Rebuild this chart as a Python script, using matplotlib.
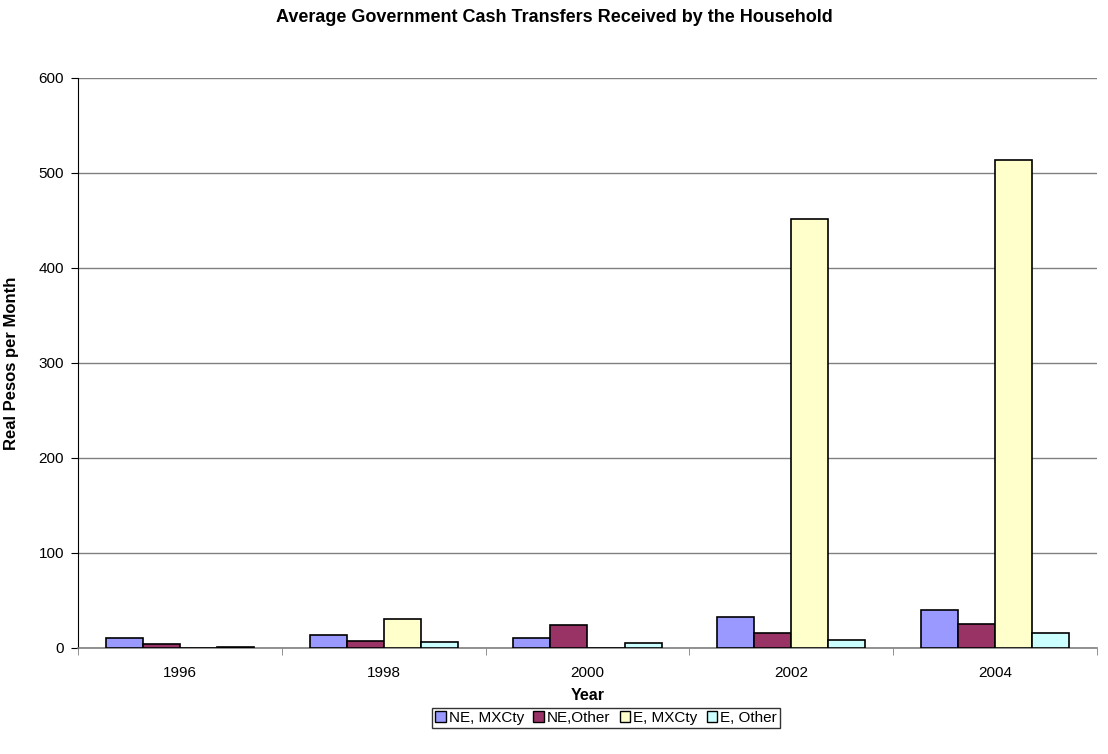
import numpy as np
import matplotlib
matplotlib.use('Agg')
import matplotlib.pyplot as plt
from matplotlib.patches import Patch

plt.rcParams['font.family'] = ['Liberation Sans', 'DejaVu Sans']

years = ['1996', '1998', '2000', '2002', '2004']
series_names = ['NE, MXCty', 'NE,Other', 'E, MXCty', 'E, Other']
ne_mxcty = [10, 13.7, 10.9, 33, 40]
ne_other = [4, 7.7, 24.2, 15.4, 25.3]
e_mxcty = [0, 30.5, 0, 452, 514]
e_other = [1, 6.7, 5, 8.8, 15.4]
colors = ['#9999FF', '#993366', '#FFFFCC', '#CCFFFF']

fig = plt.figure(figsize=(11.08, 7.54), dpi=100)
ax = fig.add_axes([0.0704, 0.1406, 0.9196, 0.756])

x = np.arange(len(years))
w = 0.182
all_series = [ne_mxcty, ne_other, e_mxcty, e_other]
for i, vals in enumerate(all_series):
    ax.bar(x + (i - 1.5) * w, vals, w, color=colors[i], edgecolor='black',
           linewidth=1.2, zorder=3)

ax.set_xlim(-0.5, 4.5)
ax.set_ylim(0, 600)
ax.set_yticks(range(0, 601, 100))
ax.yaxis.grid(True, color='#808080', linewidth=1, zorder=0)

# category labels centred, tick marks between groups
ax.set_xticks(x)
ax.set_xticklabels(years, fontsize=11)
ax.tick_params(axis='x', length=0, pad=13)
ax.set_xticks(np.arange(-0.5, 5, 1), minor=True)
ax.tick_params(axis='x', which='minor', length=5, direction='out', color='#808080')
ax.tick_params(axis='y', labelsize=11, length=5, direction='out', pad=5)

for s in ['top', 'right']:
    ax.spines[s].set_visible(False)
ax.spines['left'].set_color('black')
ax.spines['bottom'].set_color('#808080')
ax.spines['bottom'].set_linewidth(1.2)

ax.set_xlabel('Year', fontsize=11.5, fontweight='bold', labelpad=6)
ax.set_ylabel('Real Pesos per Month', fontsize=12, fontweight='bold', labelpad=14)
fig.suptitle('Average Government Cash Transfers Received by the Household',
             fontsize=13, fontweight='bold', y=0.988)

handles = [Patch(facecolor=c, edgecolor='black', linewidth=1) for c in colors]
leg = fig.legend(handles, series_names, loc='center', bbox_to_anchor=(0.547, 0.048),
                 ncol=4, fontsize=11, frameon=True, fancybox=False, edgecolor='black',
                 handlelength=0.7, handleheight=0.7, handletextpad=0.2,
                 columnspacing=0.6, borderpad=0.2, borderaxespad=0)
leg.get_frame().set_linewidth(1)

fig.savefig('out.png', dpi=100)
